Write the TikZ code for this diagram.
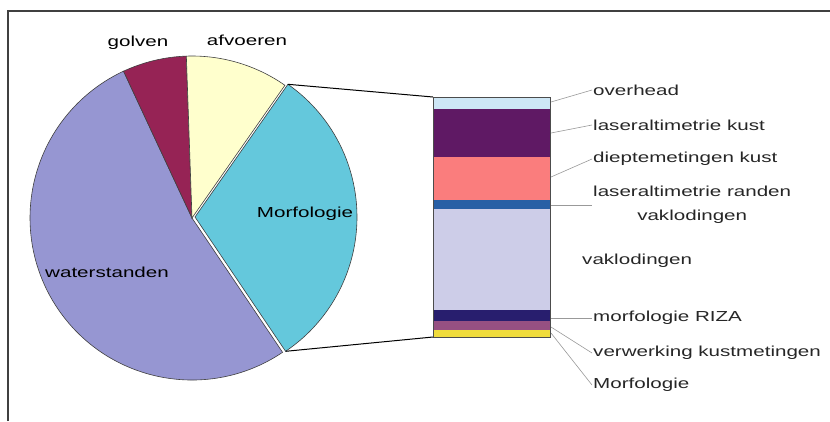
\documentclass[tikz,border=0pt]{standalone}
\usepackage{fontspec}
\setmainfont{Liberation Sans}[FakeStretch=1.42]
\usepackage{tikz}

\definecolor{waterc}{RGB}{150,150,210}
\definecolor{golvc}{RGB}{150,35,85}
\definecolor{afvc}{RGB}{255,255,205}
\definecolor{morfc}{RGB}{100,200,220}
\definecolor{ovhc}{RGB}{205,230,245}
\definecolor{lkc}{RGB}{95,25,100}
\definecolor{dkc}{RGB}{250,125,125}
\definecolor{lrc}{RGB}{40,95,165}
\definecolor{vakc}{RGB}{205,205,232}
\definecolor{rizac}{RGB}{40,30,110}
\definecolor{verwc}{RGB}{150,80,130}
\definecolor{ymorfc}{RGB}{240,220,60}

\begin{document}
\begin{tikzpicture}[x=1pt,y=-1pt,font=\fontsize{14.5}{17}\selectfont,
    slice/.style={draw=black!75,line width=0.6pt},
    lbl/.style={anchor=west,inner sep=1pt,text=black!85},
    leader/.style={draw=black!40,line width=0.6pt}]
    \useasboundingbox (0,0) rectangle (830,421);
    \draw[line width=1.4pt,black!75] (8,421) -- (8,11) -- (830,11);

    \coordinate (c) at (192,218);
    \coordinate (cm) at (195,217);
    \filldraw[slice,fill=waterc] (c) -- ++(56:162) arc[start angle=56,end angle=245,radius=162] -- cycle;
    \filldraw[slice,fill=golvc] (c) -- ++(-115:162) arc[start angle=-115,end angle=-92,radius=162] -- cycle;
    \filldraw[slice,fill=afvc] (c) -- ++(-92:162) arc[start angle=-92,end angle=-55,radius=162] -- cycle;
    \filldraw[slice,fill=morfc] (cm) -- ++(-55:162) coordinate (mtop)
        arc[start angle=-55,end angle=56,radius=162] coordinate (mbot) -- cycle;

    \node (golven) at (138,43) {golven};
    \node (afvoeren) at (247,40) {afvoeren};
    \node (morf) at (305,214) {Morfologie};
    \node (water) at (107,272) {waterstanden};

    \fill[ovhc] (433,97) rectangle (550,109);
    \fill[lkc] (433,109) rectangle (550,157);
    \fill[dkc] (433,157) rectangle (550,200);
    \fill[lrc] (433,200) rectangle (550,209);
    \fill[vakc] (433,209) rectangle (550,310);
    \fill[rizac] (433,310) rectangle (550,321);
    \fill[verwc] (433,321) rectangle (550,330);
    \fill[ymorfc] (433,330) rectangle (550,337);
    \draw[black!70,line width=0.6pt] (433,97) coordinate (btop) rectangle (550,337);
    \coordinate (bbot) at (433,337);

    \draw[line width=1pt] (mtop) -- (btop);
    \draw[line width=1pt] (mbot) -- (bbot);

    \coordinate (ovh) at (551,102);
    \coordinate (lk) at (551,133);
    \coordinate (dk) at (551,177);
    \coordinate (lr) at (551,205);
    \coordinate (riza) at (551,318);
    \coordinate (verw) at (551,327);
    \coordinate (ymorf) at (551,333);

    \node[lbl] (ovhl) at (592,90) {overhead};
    \node[lbl] (lkl) at (592,125) {laseraltimetrie kust};
    \node[lbl] (dkl) at (592,159) {dieptemetingen kust};
    \node[lbl,align=center] (lrl) at (592,205) {laseraltimetrie randen\\[7pt]vaklodingen};
    \node[lbl] (vakl) at (581,261) {vaklodingen};
    \node[lbl] (rizal) at (592,318) {morfologie RIZA};
    \node[lbl] (verwl) at (592,353) {verwerking kustmetingen};
    \node[lbl] (ymorfl) at (592,385) {Morfologie};

    \draw[leader] (ovh) -- (ovhl.west);
    \draw[leader] (lk) -- (lkl.west);
    \draw[leader] (dk) -- (dkl.west);
    \draw[leader] (lr) -- (lrl.west);
    \draw[leader] (riza) -- (rizal.west);
    \draw[leader] (verw) -- (verwl.west);
    \draw[leader] (ymorf) -- (ymorfl.west);
\end{tikzpicture}
\end{document}
